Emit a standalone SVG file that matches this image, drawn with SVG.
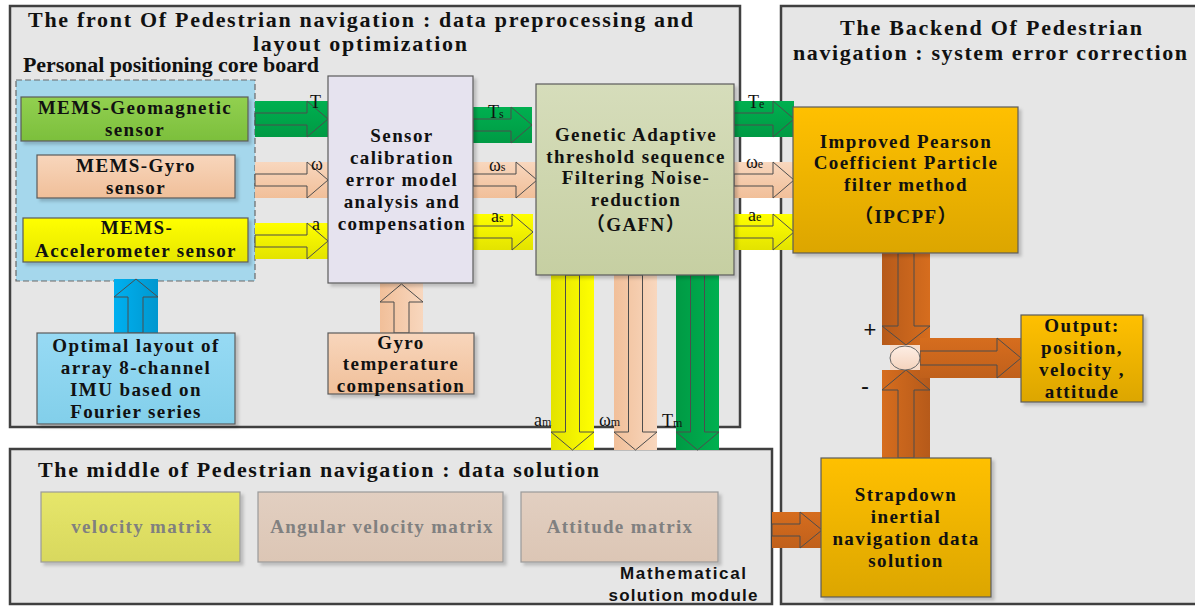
<svg xmlns="http://www.w3.org/2000/svg" width="1195" height="606" viewBox="0 0 1195 606">
<defs>
<linearGradient id="gGreenH" x1="0" y1="0" x2="0" y2="1"><stop offset="0" stop-color="#00b050"/><stop offset="1" stop-color="#009a44"/></linearGradient>
<linearGradient id="gPeachH" x1="0" y1="0" x2="0" y2="1"><stop offset="0" stop-color="#f8d7be"/><stop offset="1" stop-color="#f1bf99"/></linearGradient>
<linearGradient id="gYellowH" x1="0" y1="0" x2="0" y2="1"><stop offset="0" stop-color="#ffff00"/><stop offset="1" stop-color="#e3e300"/></linearGradient>
<linearGradient id="gGreenV" x1="0" y1="0" x2="1" y2="0"><stop offset="0" stop-color="#009a44"/><stop offset="1" stop-color="#00b050"/></linearGradient>
<linearGradient id="gPeachV" x1="0" y1="0" x2="1" y2="0"><stop offset="0" stop-color="#f1bf99"/><stop offset="1" stop-color="#f8d7be"/></linearGradient>
<linearGradient id="gYellowV" x1="0" y1="0" x2="1" y2="0"><stop offset="0" stop-color="#e3e300"/><stop offset="1" stop-color="#ffff00"/></linearGradient>
<linearGradient id="gBlueV" x1="0" y1="0" x2="1" y2="0"><stop offset="0" stop-color="#00b0f0"/><stop offset="1" stop-color="#0097cf"/></linearGradient>
<linearGradient id="gOrangeDown" x1="0" y1="0" x2="1" y2="0"><stop offset="0" stop-color="#b65a1a"/><stop offset="1" stop-color="#d66d1e"/></linearGradient>
<linearGradient id="gOrangeUp" x1="0" y1="0" x2="1" y2="0"><stop offset="0" stop-color="#d66d1e"/><stop offset="1" stop-color="#b65a1a"/></linearGradient>
<linearGradient id="gOrangeH" x1="0" y1="0" x2="0" y2="1"><stop offset="0" stop-color="#d66d1e"/><stop offset="1" stop-color="#c0601b"/></linearGradient>
<linearGradient id="fGreen" x1="0" y1="0" x2="0" y2="1"><stop offset="0" stop-color="#92d050"/><stop offset="1" stop-color="#7cbf3c"/></linearGradient>
<linearGradient id="fPeach" x1="0" y1="0" x2="0" y2="1"><stop offset="0" stop-color="#f8d6bc"/><stop offset="1" stop-color="#f0bf99"/></linearGradient>
<linearGradient id="fYellow" x1="0" y1="0" x2="0" y2="1"><stop offset="0" stop-color="#ffff00"/><stop offset="1" stop-color="#e6e600"/></linearGradient>
<linearGradient id="fGold" x1="0" y1="0" x2="0" y2="1"><stop offset="0" stop-color="#ffc000"/><stop offset="1" stop-color="#dca600"/></linearGradient>
<linearGradient id="fOlive" x1="0" y1="0" x2="0" y2="1"><stop offset="0" stop-color="#d6ddbb"/><stop offset="1" stop-color="#c6cfa2"/></linearGradient>
<linearGradient id="fSky" x1="0" y1="0" x2="0" y2="1"><stop offset="0" stop-color="#97daf4"/><stop offset="1" stop-color="#82cfea"/></linearGradient>
<linearGradient id="fVel" x1="0" y1="0" x2="0" y2="1"><stop offset="0" stop-color="#e6e66a"/><stop offset="1" stop-color="#d8d85e"/></linearGradient>
<linearGradient id="fTan" x1="0" y1="0" x2="0" y2="1"><stop offset="0" stop-color="#e2cfc1"/><stop offset="1" stop-color="#dcc6b5"/></linearGradient>
<linearGradient id="fCirc" x1="0" y1="0" x2="0" y2="1"><stop offset="0" stop-color="#fdeee4"/><stop offset="1" stop-color="#f5d3bd"/></linearGradient>
<filter id="sh" x="-10%" y="-10%" width="130%" height="130%"><feDropShadow dx="3" dy="3" stdDeviation="1.5" flood-color="#000" flood-opacity="0.18"/></filter>
</defs>
<style>
.panel{fill:#e6e6e6;stroke:#404040;stroke-width:2.5}
.box{stroke:#5a5a5a;stroke-width:1.2;filter:url(#sh)}
.mbox{stroke:#9a9a9a;stroke-width:1.2;filter:url(#sh)}
.bt{font-family:"Liberation Serif","Noto Sans CJK SC",serif;font-weight:bold;font-size:19px;letter-spacing:1.4px;text-anchor:middle;fill:#111}
.mt{font-family:"Liberation Serif",serif;font-weight:bold;font-size:19px;letter-spacing:1.3px;text-anchor:middle;fill:#808080}
.ttl{font-family:"Liberation Serif",serif;font-weight:bold;font-size:22px;fill:#111}
.arr{fill:none;stroke:#4d4d4d;stroke-width:1}
.lbl{font-family:"Liberation Serif",serif;font-size:18px;fill:#111}
.sub{font-size:12px}
.sans{font-family:"Liberation Sans",sans-serif;fill:#111}
</style>
<rect x="0" y="0" width="1195" height="606" fill="#ffffff"/>

<g id="panel-front">
<rect class="panel" x="10" y="6" width="730" height="421"/>
<text class="ttl" x="28" y="27" textLength="665" lengthAdjust="spacing">The front Of Pedestrian navigation  : data preprocessing and</text>
<text class="ttl" x="253" y="51" textLength="214" lengthAdjust="spacing">layout optimization</text>
</g>
<g id="panel-backend">
<rect class="panel" x="781" y="6" width="430" height="598"/>
<text class="ttl" x="840" y="35" textLength="302" lengthAdjust="spacing">The Backend Of Pedestrian</text>
<text class="ttl" x="793" y="60" textLength="394" lengthAdjust="spacing">navigation : system error correction</text>
</g>
<g id="panel-middle">
<rect class="panel" x="10" y="449" width="762" height="155"/>
<text class="ttl" x="38" y="477" font-size="21" textLength="561" lengthAdjust="spacing">The middle of Pedestrian navigation : data solution</text>
<text class="sans" x="683" y="579" font-size="17" font-weight="bold" text-anchor="middle" textLength="126" lengthAdjust="spacing">Mathematical</text>
<text class="sans" x="683" y="601" font-size="17" font-weight="bold" text-anchor="middle" textLength="149" lengthAdjust="spacing">solution module</text>
</g>

<g id="core-board">
<rect x="16" y="80" width="239" height="201" fill="#a5d7ec" stroke="#6a6a6a" stroke-width="1.2" stroke-dasharray="6,3"/>
<text class="ttl" x="23" y="72" font-size="17" textLength="296" lengthAdjust="spacing">Personal positioning core board</text>
</g>

<g id="connectors">
<rect x="255" y="101" width="73" height="36" fill="url(#gGreenH)"/>
<polygon class="arr" points="255,113 307,113 307,101 328,119 307,137 307,125 255,125"/>
<rect x="255" y="162" width="73" height="36" fill="url(#gPeachH)"/>
<polygon class="arr" points="255,174 307,174 307,162 328,180 307,198 307,186 255,186"/>
<rect x="255" y="223" width="73" height="36" fill="url(#gYellowH)"/>
<polygon class="arr" points="255,235 307,235 307,223 328,241 307,259 307,247 255,247"/>

<rect x="473" y="107" width="59" height="36" fill="url(#gGreenH)"/>
<polygon class="arr" points="473,119 511,119 511,107 532,125 511,143 511,131 473,131"/>
<rect x="473" y="162" width="64" height="36" fill="url(#gPeachH)"/>
<polygon class="arr" points="473,174 516,174 516,162 537,180 516,198 516,186 473,186"/>
<rect x="473" y="214" width="60" height="36" fill="url(#gYellowH)"/>
<polygon class="arr" points="473,226 512,226 512,214 533,232 512,250 512,238 473,238"/>

<rect x="734" y="101" width="60" height="36" fill="url(#gGreenH)"/>
<polygon class="arr" points="734,113 773,113 773,101 794,119 773,137 773,125 734,125"/>
<rect x="734" y="162" width="60" height="36" fill="url(#gPeachH)"/>
<polygon class="arr" points="734,174 773,174 773,162 794,180 773,198 773,186 734,186"/>
<rect x="734" y="214" width="60" height="36" fill="url(#gYellowH)"/>
<polygon class="arr" points="734,226 773,226 773,214 794,232 773,250 773,238 734,238"/>

<rect x="551" y="275" width="43" height="175" fill="url(#gYellowV)"/>
<polygon class="arr" points="565.5,275 579.5,275 579.5,432 594,432 572.5,450 551,432 565.5,432"/>
<rect x="614" y="275" width="43" height="175" fill="url(#gPeachV)"/>
<polygon class="arr" points="628.5,275 642.5,275 642.5,432 657,432 635.5,450 614,432 628.5,432"/>
<rect x="676" y="275" width="43" height="175" fill="url(#gGreenV)"/>
<polygon class="arr" points="690.5,275 704.5,275 704.5,432 719,432 697.5,450 676,432 690.5,432"/>

<rect x="114" y="279" width="44" height="54" fill="url(#gBlueV)"/>
<polygon class="arr" points="128,333 128,297 114,297 136,279 158,297 143,297 143,333"/>
<rect x="380" y="283" width="43" height="50" fill="url(#gPeachV)"/>
<polygon class="arr" points="394,333 394,302 380,302 401.5,284 423,302 409,302 409,333"/>

<rect x="882" y="253" width="48" height="92" fill="url(#gOrangeDown)"/>
<polygon class="arr" points="898,253 914,253 914,326 930,326 906,345 882,326 898,326"/>
<rect x="882" y="370" width="48" height="88" fill="url(#gOrangeUp)"/>
<polygon class="arr" points="898,458 898,390 882,390 906,370 930,390 914,390 914,458"/>
<rect x="920" y="338" width="101" height="40" fill="url(#gOrangeH)"/>
<polygon class="arr" points="920,351 997,351 997,338 1021,358 997,378 997,365 920,365"/>
<rect x="890" y="345" width="30" height="25" fill="#f6dccb"/>
<ellipse cx="905" cy="358" rx="15" ry="12" fill="url(#fCirc)" stroke="#666" stroke-width="1"/>
<rect x="772" y="512" width="50" height="36" fill="url(#gOrangeH)"/>
<polygon class="arr" points="772,524 800,524 800,512 822,530 800,548 800,536 772,536"/>

<text class="lbl" x="310" y="108">T</text>
<text class="lbl" x="311" y="170">ω</text>
<text class="lbl" x="312" y="230">a</text>
<text class="lbl" x="488" y="118">T<tspan class="sub">s</tspan></text>
<text class="lbl" x="489" y="171">ω<tspan class="sub">s</tspan></text>
<text class="lbl" x="491" y="222">a<tspan class="sub">s</tspan></text>
<text class="lbl" x="748" y="108">T<tspan class="sub">e</tspan></text>
<text class="lbl" x="746" y="168">ω<tspan class="sub">e</tspan></text>
<text class="lbl" x="748" y="221">a<tspan class="sub">e</tspan></text>
<text class="lbl" x="534" y="426">a<tspan class="sub">m</tspan></text>
<text class="lbl" x="599" y="426">ω<tspan class="sub">m</tspan></text>
<text class="lbl" x="662" y="427">T<tspan class="sub">m</tspan></text>
<text class="sans" x="870" y="337" font-size="22" text-anchor="middle">+</text>
<text class="sans" x="865" y="394" font-size="24" text-anchor="middle">-</text>
</g>

<g id="node-geomagnetic">
<rect class="box" x="21" y="97" width="227" height="44" fill="url(#fGreen)"/>
<text class="bt" x="135" y="114">MEMS-Geomagnetic</text>
<text class="bt" x="135" y="136">sensor</text>
</g>
<g id="node-gyro">
<rect class="box" x="37" y="155" width="198" height="43" fill="url(#fPeach)"/>
<text class="bt" x="136" y="172">MEMS-Gyro</text>
<text class="bt" x="136" y="194">sensor</text>
</g>
<g id="node-accelerometer">
<rect class="box" x="23" y="218" width="225" height="44" fill="url(#fYellow)"/>
<text class="bt" x="137" y="234">MEMS-</text>
<text class="bt" x="136" y="257">Accelerometer sensor</text>
</g>
<g id="node-calibration">
<rect class="box" x="328" y="76" width="145" height="207" fill="#e6e3ef"/>
<text class="bt" x="402" y="142">Sensor</text>
<text class="bt" x="402" y="164">calibration</text>
<text class="bt" x="402" y="186">error model</text>
<text class="bt" x="402" y="208">analysis and</text>
<text class="bt" x="402" y="230">compensation</text>
</g>
<g id="node-gafn">
<rect class="box" x="536" y="84" width="198" height="191" fill="url(#fOlive)"/>
<text class="bt" x="636" y="141">Genetic Adaptive</text>
<text class="bt" x="636" y="163">threshold sequence</text>
<text class="bt" x="636" y="184">Filtering Noise-</text>
<text class="bt" x="636" y="206">reduction</text>
<text class="bt" x="636" y="231">（GAFN）</text>
</g>
<g id="node-ipcpf">
<rect class="box" x="793" y="107" width="225" height="146" fill="url(#fGold)"/>
<text class="bt" x="906" y="148">Improved Pearson</text>
<text class="bt" x="906" y="169">Coefficient Particle</text>
<text class="bt" x="906" y="191">filter method</text>
<text class="bt" x="906" y="223">（IPCPF）</text>
</g>
<g id="node-output">
<rect class="box" x="1021" y="315" width="122" height="87" fill="url(#fGold)"/>
<text class="bt" x="1082" y="332">Output:</text>
<text class="bt" x="1082" y="354">position,</text>
<text class="bt" x="1082" y="376">velocity ,</text>
<text class="bt" x="1082" y="398">attitude</text>
</g>
<g id="node-strapdown">
<rect class="box" x="821" y="458" width="170" height="139" fill="url(#fGold)"/>
<text class="bt" x="906" y="501">Strapdown</text>
<text class="bt" x="906" y="523">inertial</text>
<text class="bt" x="906" y="545">navigation data</text>
<text class="bt" x="906" y="567">solution</text>
</g>
<g id="node-optimal-layout">
<rect class="box" x="37" y="333" width="198" height="91" fill="url(#fSky)"/>
<text class="bt" x="136" y="352">Optimal layout of</text>
<text class="bt" x="136" y="374">array 8-channel</text>
<text class="bt" x="136" y="396">IMU based on</text>
<text class="bt" x="136" y="418">Fourier series</text>
</g>
<g id="node-gyro-temp">
<rect class="box" x="328" y="333" width="146" height="61" fill="url(#fPeach)"/>
<text class="bt" x="401" y="349">Gyro</text>
<text class="bt" x="401" y="370">temperature</text>
<text class="bt" x="401" y="392">compensation</text>
</g>
<g id="node-velocity-matrix">
<rect class="mbox" x="41" y="492" width="199" height="70" fill="url(#fVel)"/>
<text class="mt" x="142" y="533">velocity matrix</text>
</g>
<g id="node-angular-matrix">
<rect class="mbox" x="258" y="492" width="245" height="70" fill="url(#fTan)"/>
<text class="mt" x="382" y="533">Angular velocity matrix</text>
</g>
<g id="node-attitude-matrix">
<rect class="mbox" x="521" y="492" width="197" height="70" fill="url(#fTan)"/>
<text class="mt" x="620" y="533">Attitude matrix</text>
</g>
</svg>
